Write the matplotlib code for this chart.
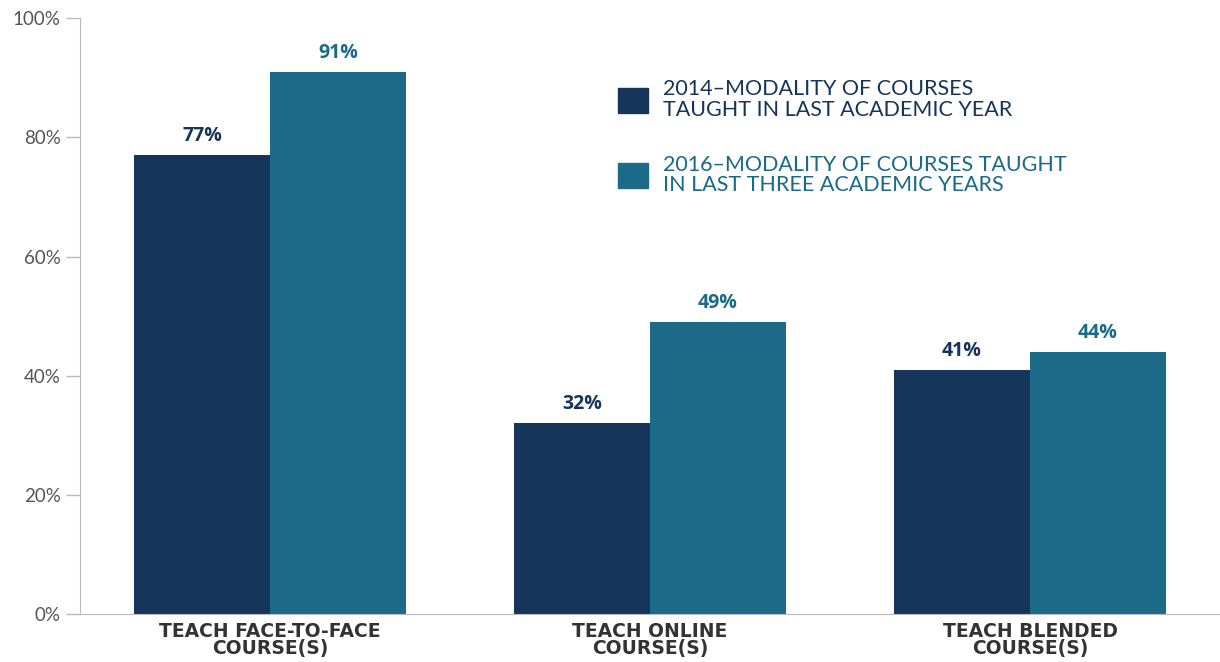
import numpy as np
import matplotlib.pyplot as plt
from matplotlib.patches import Patch

categories = ["TEACH FACE-TO-FACE\nCOURSE(S)", "TEACH ONLINE\nCOURSE(S)", "TEACH BLENDED\nCOURSE(S)"]
vals_2014 = [77, 32, 41]
vals_2016 = [91, 49, 44]
series_names = ["2014\u2013MODALITY OF COURSES\nTAUGHT IN LAST ACADEMIC YEAR",
                "2016\u2013MODALITY OF COURSES TAUGHT\nIN LAST THREE ACADEMIC YEARS"]

c_dark = "#15355A"
c_teal = "#1B6A88"

fig = plt.figure(figsize=(12.2, 6.62), dpi=100)
ax = fig.add_axes([0.0656, 0.0725, 0.9344, 0.9])

x = np.arange(len(categories))
w = 0.358
b1 = ax.bar(x - w / 2, vals_2014, w, color=c_dark)
b2 = ax.bar(x + w / 2, vals_2016, w, color=c_teal)

# value labels above each bar, coloured like the series
for bars, vals, col in [(b1, vals_2014, c_dark), (b2, vals_2016, c_teal)]:
    for r, v in zip(bars, vals):
        ax.text(r.get_x() + r.get_width() / 2, v + 1.5, f"{v}%", ha="center", va="bottom",
                fontsize=14, fontweight="bold", color=col, family="Open Sans")

ax.set_xlim(-0.5, 2.5)
ax.set_ylim(0, 100)
ax.set_yticks(range(0, 101, 20))
ax.set_yticklabels([f"{t}%" for t in range(0, 101, 20)], fontsize=13.5, color="#555555", family="Lato")
ax.set_xticks(x)
ax.set_xticklabels(categories, fontsize=13.5, fontweight="bold", color="#333333",
                   family=["Liberation Sans Narrow", "DejaVu Sans"], linespacing=0.85)
ax.tick_params(axis="x", length=0, pad=6)
ax.tick_params(axis="y", length=10, color="#bbbbbb", width=1, pad=4)
for s in ["top", "right"]:
    ax.spines[s].set_visible(False)
ax.spines["left"].set_color("#bbbbbb")
ax.spines["bottom"].set_color("#bbbbbb")

handles = [Patch(color=c_dark), Patch(color=c_teal)]
leg = ax.legend(handles, series_names, loc="upper left", bbox_to_anchor=(0.455, 0.93),
                frameon=False, handlelength=1.4, handleheight=1.4, handletextpad=0.7,
                labelspacing=1.6, prop={"family": "Lato", "size": 15.5})
for t, col in zip(leg.get_texts(), [c_dark, c_teal]):
    t.set_color(col)
    t.set_linespacing(1.05)

fig.savefig("out.png")
